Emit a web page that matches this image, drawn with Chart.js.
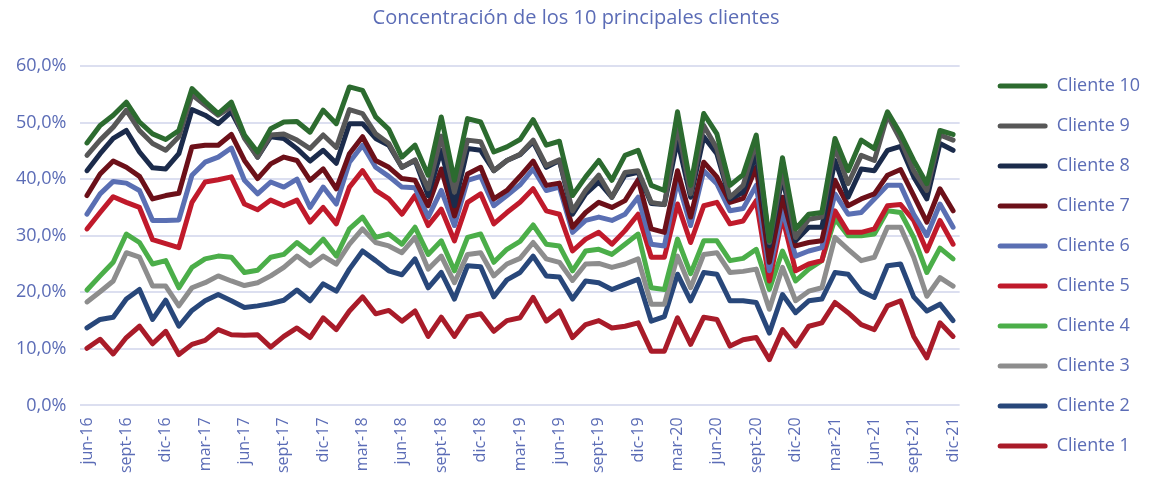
<!DOCTYPE html>
<html lang="es">
<head>
<meta charset="utf-8">
<title>Concentración de los 10 principales clientes</title>
<script src="https://cdn.jsdelivr.net/npm/chart.js@4/dist/chart.umd.min.js"></script>
<style>
  html, body { margin: 0; padding: 0; background: #ffffff; }
  #wrap { width: 1150px; height: 481px; }
</style>
</head>
<body>
<div id="wrap"><canvas id="chart"></canvas></div>
<script>
// Meses jun-16 .. dic-21
const MESES = [
  'jun-16','jul-16','ago-16','sept-16','oct-16','nov-16','dic-16',
  'ene-17','feb-17','mar-17','abr-17','may-17','jun-17','jul-17','ago-17','sept-17','oct-17','nov-17','dic-17',
  'ene-18','feb-18','mar-18','abr-18','may-18','jun-18','jul-18','ago-18','sept-18','oct-18','nov-18','dic-18',
  'ene-19','feb-19','mar-19','abr-19','may-19','jun-19','jul-19','ago-19','sept-19','oct-19','nov-19','dic-19',
  'ene-20','feb-20','mar-20','abr-20','may-20','jun-20','jul-20','ago-20','sept-20','oct-20','nov-20','dic-20',
  'ene-21','feb-21','mar-21','abr-21','may-21','jun-21','jul-21','ago-21','sept-21','oct-21','nov-21','dic-21'
];

// Concentración acumulada (%)
const cliente10 = [46.4,49.5,51.3,53.6,50.1,48.0,47.0,48.6,56.0,53.7,51.6,53.6,47.8,44.8,48.9,50.1,50.2,
  48.3,52.2,49.8,56.3,55.7,51.0,48.8,43.9,46.0,40.7,51.0,39.8,50.7,50.1,44.8,45.7,47.0,
  50.5,46.0,46.7,37.1,40.4,43.3,39.8,44.2,45.1,38.9,38.0,51.9,38.9,51.6,48.0,38.9,40.8,
  47.8,29.1,43.8,31.2,33.8,34.1,47.2,41.5,46.9,45.4,51.9,48.0,43.3,39.2,48.6,47.9];
const cliente9 = [44.2,46.9,49.2,52.2,48.6,46.3,45.1,47.5,54.9,53.1,51.3,52.8,47.2,43.9,47.8,48.0,46.9,
  45.4,47.8,45.6,52.3,51.6,48.0,46.3,42.1,43.4,38.3,47.6,37.7,46.9,46.6,41.5,43.3,44.4,
  46.9,42.4,43.4,34.4,38.0,40.7,36.8,41.2,41.5,35.9,35.5,49.5,37.4,49.5,45.4,36.8,38.9,
  46.6,28.8,41.5,29.7,32.9,33.3,45.7,39.2,44.2,43.3,51.3,46.9,41.5,38.0,47.8,46.9];
const cliente8 = [41.5,44.5,47.2,48.6,44.8,42.0,41.8,44.5,52.3,51.3,49.8,51.9,47.5,43.9,47.5,47.2,45.4,
  43.2,45.1,42.8,49.8,49.8,47.2,46.0,42.1,43.3,37.1,45.1,35.3,45.4,45.1,41.5,43.3,44.3,
  46.6,42.1,43.3,33.8,37.4,39.5,36.8,40.7,41.2,35.7,35.5,46.9,36.8,47.5,44.5,36.5,37.7,
  44.5,28.2,40.4,29.1,31.5,31.5,43.3,36.8,41.8,41.5,45.1,45.8,40.4,36.5,46.3,45.1];
const cliente7 = [37.1,40.9,43.2,42.1,40.5,36.5,37.1,37.5,45.7,46.0,46.0,47.9,43.3,40.1,42.7,43.9,43.3,
  39.8,41.8,38.3,44.5,47.5,43.3,42.1,40.1,39.8,35.3,41.8,33.5,40.9,42.1,36.5,38.0,40.5,
  43.2,38.9,39.3,31.5,34.1,35.9,35.0,36.2,39.9,31.2,30.6,41.5,33.3,43.0,40.4,35.9,36.6,
  42.1,25.3,36.8,28.2,28.8,29.1,39.8,35.3,36.5,37.4,40.7,41.7,37.1,32.4,38.3,34.4];
const cliente6 = [33.8,37.4,39.6,39.3,38.0,32.7,32.7,32.8,40.7,43.0,43.9,45.5,39.8,37.4,39.5,38.6,40.0,
  35.0,38.6,35.6,43.0,46.0,42.1,40.5,38.6,38.5,33.3,38.0,31.8,39.8,40.5,35.3,37.1,39.0,
  41.8,38.0,38.6,30.6,32.7,33.3,32.7,33.8,36.8,28.5,28.2,39.8,31.8,41.5,39.2,34.4,34.8,
  38.9,23.8,34.4,26.4,27.3,27.9,37.4,33.8,34.1,36.5,38.9,38.9,33.8,30.0,35.6,31.5];
const cliente5 = [31.2,34.1,36.9,35.9,35.0,29.3,28.6,27.9,35.9,39.5,39.9,40.4,35.6,34.6,36.3,35.3,36.3,
  32.4,35.0,32.1,38.6,41.5,38.0,36.5,33.8,37.1,31.8,34.7,29.1,35.9,37.4,32.1,34.1,35.9,
  38.3,34.4,33.8,27.3,29.4,30.6,28.5,30.9,33.8,26.2,26.2,35.6,28.8,35.3,35.9,32.1,32.6,
  36.2,22.0,33.3,23.8,25.0,25.6,34.4,30.6,30.6,31.2,35.3,35.5,32.7,27.3,32.7,28.5];
const cliente4 = [20.4,22.9,25.3,30.3,28.8,25.0,25.6,20.8,24.4,25.9,26.4,26.2,23.5,23.9,26.2,26.7,28.8,
  27.0,29.4,26.4,31.2,33.3,29.7,30.3,28.5,31.5,26.7,29.1,23.8,29.7,30.3,25.3,27.6,29.0,
  31.9,28.5,28.2,23.8,27.3,27.6,26.7,28.5,30.3,20.8,20.5,29.4,23.3,29.1,29.1,25.6,26.0,
  27.6,20.5,27.3,22.0,24.1,25.6,33.0,30.0,30.0,30.3,34.4,34.1,29.7,23.5,27.8,25.9];
const cliente3 = [18.3,20.1,22.0,27.0,26.2,21.1,21.1,17.6,20.8,21.7,22.9,22.0,21.2,21.7,22.9,24.4,26.4,
  24.7,26.4,25.0,28.5,31.2,28.8,28.2,27.0,29.7,24.1,26.4,21.7,26.7,27.0,22.9,25.0,26.0,
  28.8,25.9,25.3,22.1,25.0,25.1,24.4,25.0,25.9,17.9,17.9,26.4,20.8,26.7,27.0,23.5,23.7,
  24.1,17.0,24.4,18.5,20.2,20.8,29.7,27.6,25.6,26.2,31.5,31.5,26.2,19.3,22.6,21.1];
const cliente2 = [13.7,15.2,15.6,18.8,20.5,15.2,18.6,14.0,16.8,18.5,19.6,18.5,17.3,17.6,18.0,18.6,20.4,
  18.5,21.5,20.2,24.1,27.3,25.6,23.8,23.1,25.9,20.8,23.5,18.8,24.7,24.5,19.2,22.2,23.5,
  26.4,22.9,22.7,18.8,22.0,21.7,20.5,21.4,22.3,14.9,15.7,23.2,18.5,23.5,23.2,18.5,18.5,
  18.2,12.8,19.6,16.4,18.5,18.8,23.5,23.2,20.2,19.1,24.7,25.0,19.2,16.7,17.9,15.0];
const cliente1 = [10.1,11.7,9.1,12.0,14.0,10.9,13.1,9.0,10.8,11.5,13.4,12.5,12.4,12.5,10.3,12.2,13.7,
  12.0,15.5,13.4,16.7,19.2,16.2,16.8,14.9,16.7,12.2,15.6,12.2,15.7,16.2,13.1,15.0,15.5,
  19.1,14.9,16.7,12.0,14.3,15.0,13.7,14.0,14.6,9.6,9.6,15.5,10.8,15.6,15.2,10.5,11.6,
  12.0,8.1,13.4,10.5,14.0,14.6,18.2,16.4,14.3,13.4,17.6,18.5,12.2,8.4,14.6,12.2];

const SERIES = [
  { label: 'Cliente 10', data: cliente10, color: '#2c6b2f' },
  { label: 'Cliente 9',  data: cliente9,  color: '#575757' },
  { label: 'Cliente 8',  data: cliente8,  color: '#1b2b4b' },
  { label: 'Cliente 7',  data: cliente7,  color: '#6c1019' },
  { label: 'Cliente 6',  data: cliente6,  color: '#5a6fb3' },
  { label: 'Cliente 5',  data: cliente5,  color: '#c01a2b' },
  { label: 'Cliente 4',  data: cliente4,  color: '#4bae49' },
  { label: 'Cliente 3',  data: cliente3,  color: '#8d8d8d' },
  { label: 'Cliente 2',  data: cliente2,  color: '#28477a' },
  { label: 'Cliente 1',  data: cliente1,  color: '#a91b29' }
];

const TEXT = '#5b6cb6';
const GRID = '#dcdff0';
const FONT = "'Open Sans', 'Noto Sans', sans-serif";

new Chart(document.getElementById('chart'), {
  type: 'line',
  data: {
    labels: MESES,
    datasets: SERIES.map(s => ({
      label: s.label,
      data: s.data,
      borderColor: s.color,
      backgroundColor: s.color,
      borderWidth: 5,
      pointRadius: 0,
      tension: 0,
      borderJoinStyle: 'round',
      borderCapStyle: 'round'
    }))
  },
  options: {
    responsive: true,
    maintainAspectRatio: false,
    animation: false,
    layout: { padding: { left: 2, right: 0, top: 0, bottom: 4 } },
    plugins: {
      title: {
        display: true,
        text: 'Concentración de los 10 principales clientes',
        color: TEXT,
        font: { family: FONT, size: 20, weight: 'normal' },
        padding: { top: 6, bottom: 36 }
      },
      legend: {
        position: 'right',
        // titulo vacio: solo sirve para bajar la leyenda
        title: { display: true, text: '', font: { size: 10 }, padding: { top: 23, bottom: 20 } },
        labels: {
          color: TEXT,
          font: { family: FONT, size: 18 },
          boxWidth: 50,
          boxHeight: 5,
          padding: 22,
          useBorderRadius: true,
          borderRadius: 2.5,
          generateLabels: (chart) =>
            Chart.defaults.plugins.legend.labels.generateLabels(chart).map(l => ({ ...l, lineWidth: 0 }))
        }
      },
      tooltip: { enabled: false }
    },
    scales: {
      x: {
        offset: true,
        grid: { display: false },
        border: { display: false },
        ticks: {
          autoSkip: false,
          minRotation: 90,
          maxRotation: 90,
          padding: 4,
          color: TEXT,
          font: { family: FONT, size: 16 },
          callback: function (v, i) { return i % 3 === 0 ? MESES[i] : ''; }
        }
      },
      y: {
        min: 0,
        max: 60,
        grid: { color: GRID, lineWidth: 2, drawTicks: false },
        border: { display: false },
        ticks: {
          stepSize: 10,
          padding: 14,
          color: TEXT,
          font: { family: FONT, size: 18 },
          callback: (v) => v.toFixed(1).replace('.', ',') + '%'
        }
      },
      // eje vacio a la derecha: separa el grafico de la leyenda
      y2: {
        position: 'right',
        display: true,
        grid: { display: false },
        border: { display: false },
        ticks: { display: false },
        afterFit: (s) => { s.width = 16; }
      }
    }
  }
});
</script>
</body>
</html>
